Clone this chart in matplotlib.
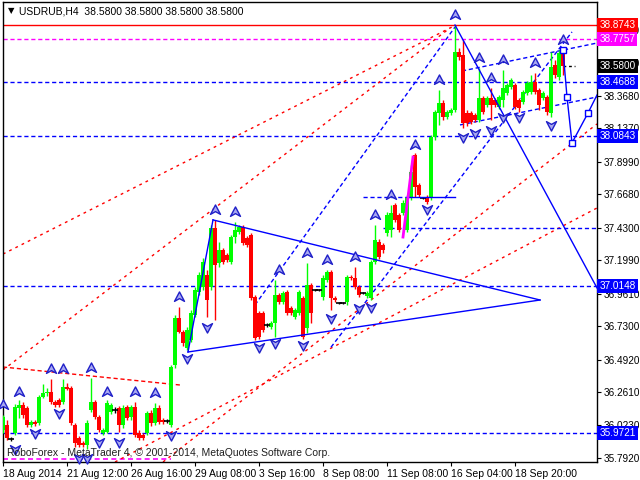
import numpy as np
import matplotlib
matplotlib.use("Agg")
import matplotlib.pyplot as plt
from matplotlib.path import Path
from matplotlib.transforms import blended_transform_factory

# ---------------------------------------------------------------------------
# USDRUB H4 bars (bar index = position on the chart)
opens = [
  35.991, 36.026, 35.927, 35.970, 36.147, 36.169, 36.147, 36.026, 36.048, 36.041,
  36.226, 36.254, 36.261, 36.190, 36.204, 36.190, 36.297, 36.290, 36.026, 35.934,
  35.898, 35.884, 36.133, 36.190, 36.083, 35.970, 35.977, 36.119, 36.133, 36.147,
  36.026, 36.155, 36.083, 36.155, 35.970, 35.955, 35.970, 36.112, 36.041, 36.147,
  36.062, 36.055, 36.026, 36.453, 36.788, 36.688, 36.574, 36.631, 36.809, 36.973,
  37.009, 37.094, 37.009, 37.429, 37.179, 37.272, 37.236, 37.187, 37.364, 37.400,
  37.436, 37.357, 37.379, 36.937, 36.824, 36.824, 36.738, 36.724, 36.752, 36.952,
  36.902, 36.973, 36.859, 36.795, 36.824, 36.930, 36.717, 37.023, 36.987, 36.987,
  36.937, 37.058, 37.115, 36.930, 36.895, 36.895, 36.902, 37.080, 37.073, 37.009,
  36.966, 36.945, 36.930, 37.187, 37.329, 37.308, 37.393, 37.414, 37.592, 37.521,
  37.535, 37.414, 37.642, 37.948, 37.735, 37.642, 37.649, 37.649, 38.076, 38.247,
  38.318, 38.219, 38.247, 38.268, 38.681, 38.660, 38.247, 38.247, 38.233, 38.197,
  38.354, 38.304, 38.354, 38.340, 38.290, 38.340, 38.389, 38.432, 38.446, 38.340,
  38.325, 38.389, 38.397, 38.468, 38.411, 38.354, 38.361, 38.247, 38.589, 38.503,
  38.674]
highs = [
  36.098, 36.062, 35.941, 36.176, 36.204, 36.190, 36.162, 36.062, 36.062, 36.240,
  36.318, 36.290, 36.354, 36.204, 36.219, 36.354, 36.325, 36.304, 36.041, 35.948,
  35.913, 36.062, 36.361, 36.204, 36.098, 36.005, 36.204, 36.183, 36.155, 36.162,
  36.169, 36.169, 36.169, 36.190, 35.991, 35.970, 36.126, 36.133, 36.183, 36.169,
  36.076, 36.069, 36.453, 36.809, 36.866, 36.703, 36.724, 36.845, 37.009, 37.115,
  37.215, 37.130, 37.450, 37.486, 37.329, 37.286, 37.251, 37.379, 37.471, 37.450,
  37.450, 37.372, 37.393, 36.952, 36.838, 36.838, 36.752, 36.767, 37.058, 36.966,
  36.980, 36.987, 36.873, 36.859, 36.987, 36.945, 37.179, 37.037, 36.994, 36.994,
  37.094, 37.130, 37.130, 36.945, 36.902, 36.902, 37.094, 37.094, 37.151, 37.023,
  36.973, 36.980, 37.201, 37.450, 37.350, 37.322, 37.542, 37.592, 37.607, 37.535,
  37.628, 37.663, 37.877, 37.962, 37.749, 37.649, 37.663, 38.091, 38.268, 38.411,
  38.340, 38.268, 38.283, 38.874, 38.710, 38.767, 38.268, 38.261, 38.247, 38.567,
  38.368, 38.368, 38.425, 38.354, 38.375, 38.553, 38.461, 38.496, 38.461, 38.354,
  38.411, 38.475, 38.518, 38.532, 38.425, 38.404, 38.375, 38.681, 38.624, 38.695,
  38.695]
lows = [
  35.970, 35.920, 35.913, 35.955, 36.076, 36.076, 36.012, 36.012, 36.019, 36.026,
  36.219, 36.233, 36.176, 36.155, 36.155, 36.176, 36.276, 36.026, 35.870, 35.870,
  35.870, 35.856, 36.119, 36.069, 35.977, 35.955, 35.970, 36.105, 36.112, 35.977,
  36.005, 36.062, 36.062, 35.941, 35.920, 35.920, 35.955, 36.019, 36.026, 36.034,
  36.034, 36.041, 36.012, 36.432, 36.681, 36.589, 36.560, 36.617, 36.795, 36.952,
  36.987, 36.795, 36.987, 36.774, 37.151, 37.172, 37.187, 37.172, 37.322, 37.386,
  37.308, 37.293, 36.916, 36.631, 36.639, 36.688, 36.724, 36.710, 36.653, 36.888,
  36.888, 36.809, 36.809, 36.781, 36.809, 36.639, 36.681, 36.752, 36.980, 36.980,
  36.916, 37.044, 36.845, 36.902, 36.888, 36.888, 36.881, 37.058, 36.994, 36.937,
  36.959, 36.930, 36.916, 37.172, 37.208, 37.251, 37.372, 37.364, 37.471, 37.400,
  37.521, 37.400, 37.628, 37.649, 37.649, 37.635, 37.599, 37.628, 38.055, 38.162,
  38.197, 38.204, 38.233, 38.254, 38.624, 38.140, 38.155, 38.169, 38.183, 38.183,
  38.240, 38.290, 38.197, 38.290, 38.276, 38.290, 38.375, 38.418, 38.276, 38.254,
  38.311, 38.375, 38.382, 38.382, 38.268, 38.340, 38.233, 38.219, 38.496, 38.482,
  38.518]
closes = [
  36.083, 35.934, 35.927, 36.155, 36.169, 36.098, 36.026, 36.048, 36.034, 36.226,
  36.254, 36.261, 36.190, 36.169, 36.169, 36.297, 36.283, 36.041, 35.898, 35.884,
  35.884, 36.041, 36.190, 36.083, 35.991, 35.991, 36.183, 36.169, 36.133, 36.026,
  36.147, 36.076, 36.155, 35.955, 35.934, 35.934, 36.112, 36.041, 36.147, 36.048,
  36.048, 36.055, 36.439, 36.788, 36.688, 36.610, 36.703, 36.824, 36.987, 37.094,
  37.187, 36.916, 37.429, 37.165, 37.272, 37.187, 37.201, 37.364, 37.414, 37.436,
  37.322, 37.308, 36.930, 36.646, 36.653, 36.703, 36.738, 36.752, 36.952, 36.902,
  36.966, 36.824, 36.824, 36.845, 36.973, 36.653, 37.023, 36.824, 36.987, 36.987,
  37.073, 37.115, 36.930, 36.916, 36.895, 36.895, 37.080, 37.073, 37.009, 36.952,
  36.966, 36.966, 37.187, 37.343, 37.222, 37.272, 37.521, 37.535, 37.486, 37.414,
  37.607, 37.642, 37.827, 37.720, 37.663, 37.642, 37.614, 38.076, 38.254, 38.318,
  38.219, 38.254, 38.268, 38.681, 38.646, 38.176, 38.176, 38.183, 38.197, 38.354,
  38.254, 38.354, 38.304, 38.304, 38.361, 38.425, 38.446, 38.482, 38.290, 38.283,
  38.397, 38.461, 38.468, 38.397, 38.304, 38.389, 38.254, 38.574, 38.518, 38.674,
  38.580]

# Time axis labels (one every 16 bars)
time_label_bars = [0, 16, 32, 48, 64, 80, 96, 112, 128]
time_labels = ["18 Aug 2014", "21 Aug 12:00", "26 Aug 16:00", "29 Aug 08:00",
               "3 Sep 16:00", "8 Sep 08:00", "11 Sep 08:00", "16 Sep 04:00",
               "18 Sep 20:00"]
price_ticks = [35.792, 36.023, 36.261, 36.492, 36.730, 36.961, 37.199, 37.430,
               37.668, 37.899, 38.137, 38.368, 38.606, 38.837]

# Fractals: bar index and level of the arrow
frac_up_bars = [0, 4, 12, 15, 22, 26, 33, 38, 44, 53, 58, 69, 76, 81, 88, 93,
                97, 103, 109, 113, 119, 122, 125, 133, 140]
frac_up_prices = [36.169, 36.261, 36.425, 36.425, 36.432, 36.261, 36.261, 36.254,
                  36.937, 37.557, 37.542, 37.130, 37.251, 37.201, 37.222, 37.521,
                  37.663, 38.019, 38.482, 38.945, 38.638, 38.496, 38.624, 38.603,
                  38.767]
frac_dn_bars = [3, 8, 14, 19, 21, 24, 29, 42, 46, 51, 64, 68, 75, 82, 89, 92,
                106, 115, 118, 122, 125, 129, 137]
frac_dn_prices = [35.856, 35.970, 36.112, 35.792, 35.792, 35.905, 35.905, 35.955,
                  36.503, 36.724, 36.582, 36.610, 36.596, 36.788, 36.859, 36.866,
                  37.564, 38.076, 38.105, 38.126, 38.219, 38.219, 38.162]

# Horizontal levels: price, colour, style
levels = [
  (38.8743, "#ff0000", "solid"),
  (38.7757, "#ff00ff", "dashed"),
  (38.4688, "#0000ff", "dashed"),
  (38.0843, "#0000ff", "dashed"),
  (37.0148, "#0000ff", "dashed"),
  (35.9721, "#0000ff", "dashed"),
]
last_price = 38.5800

# Trend lines: ((bar, price), (bar, price))
red_dotted = [
  ((0, 37.243), (112.25, 38.859)),
  ((0, 36.418), (111.75, 38.852)),
  ((40, 35.763), (148.5, 38.169)),
  ((28, 35.763), (148.5, 37.571)),
]
red_dashed = [((0, 36.439), (44.25, 36.311))]
blue_solid = [
  ((52.5, 37.486), (134.25, 36.916)),
  ((46.25, 36.546), (134.25, 36.916)),
  ((46.25, 36.546), (52.5, 37.486)),
  ((113, 38.873), (148.5, 37.002)),
  ((101, 37.649), (113, 37.649)),
]
blue_dashed = [
  ((63, 36.881), (113, 38.859)),
  ((82, 36.580), (142.25, 38.824)),
  ((114.75, 38.546), (148.5, 38.745)),
  ((114.25, 38.162), (148.5, 38.361)),
  ((90, 37.649), (101, 37.649)),
  ((95, 37.430), (148.5, 37.430)),
]
forecast_bars = [140, 141, 142.25, 146.25, 148.5]
forecast_prices = [38.695, 38.361, 38.034, 38.247, 38.375]

# ---------------------------------------------------------------------------
plt.rcParams["font.family"] = ["Liberation Sans", "DejaVu Sans"]

W, H = 640, 480
fig = plt.figure(figsize=(6.4, 4.8), dpi=100)
ax = fig.add_axes([3 / W, 18 / H, 594 / W, 460 / H])
ax.set_xlim(0, 148.5)
ax.set_ylim(35.763, 39.037)

o = np.array(opens)
hi = np.array(highs)
lo = np.array(lows)
c = np.array(closes)
idx = np.arange(len(o))

# candles
up = c > o + 0.004
dn = c < o - 0.004
dj = ~(up | dn)
for mask, col in ((up, "#00ff00"), (dn, "#ff0000")):
  ax.vlines(idx[mask], lo[mask], hi[mask], colors=col, lw=1, zorder=3)
  bottom = np.minimum(o[mask], c[mask])
  height = np.maximum(np.abs(c[mask] - o[mask]), 0.007)
  ax.bar(idx[mask], height, bottom=bottom, width=0.78, color=col,
         linewidth=0, zorder=3)
ax.vlines(idx[dj], lo[dj], hi[dj], colors="black", lw=1, zorder=3)
ax.plot(idx[dj], c[dj], ls="none", marker="_", ms=4, mew=1.2, color="black",
        zorder=3)

# levels
for price, col, style in levels:
  if style == "solid":
    ax.axhline(price, color=col, lw=1, zorder=2)
  else:
    ax.axhline(price, color=col, lw=1, ls=(0, (3, 2)), zorder=2)
ax.plot([0, 42], [35.784, 35.784], color="#ff00ff", lw=1.2, ls=(0, (3, 2)))
ax.plot([140, 143], [last_price, last_price], color="black", lw=1,
        ls=(0, (2, 2)), zorder=2)

for (x0, y0), (x1, y1) in red_dotted:
  ax.plot([x0, x1], [y0, y1], color="#ff0000", lw=1, ls=(0, (2, 3)), zorder=2)
for (x0, y0), (x1, y1) in red_dashed:
  ax.plot([x0, x1], [y0, y1], color="#ff0000", lw=1, ls=(0, (3, 2)), zorder=2)
for (x0, y0), (x1, y1) in blue_solid:
  ax.plot([x0, x1], [y0, y1], color="#0000ff", lw=1, zorder=4)
for (x0, y0), (x1, y1) in blue_dashed:
  ax.plot([x0, x1], [y0, y1], color="#0000ff", lw=1, ls=(0, (3, 2)), zorder=2)
ax.plot([100, 102.5], [37.364, 37.934], color="#ff00ff", lw=2, zorder=4)

ax.plot(forecast_bars, forecast_prices, color="#0000ff", lw=1, zorder=4)
ax.plot(forecast_bars[:4], forecast_prices[:4], ls="none", marker="s", ms=5,
        mfc="white", mec="#0000ff", mew=1, zorder=5)

# fractal arrows
up_arrow = Path([(0, 1), (0.9, -0.7), (0, -0.2), (-0.9, -0.7), (0, 1)],
                [Path.MOVETO, Path.LINETO, Path.LINETO, Path.LINETO, Path.CLOSEPOLY])
dn_arrow = Path([(0, -1), (0.9, 0.7), (0, 0.2), (-0.9, 0.7), (0, -1)],
                [Path.MOVETO, Path.LINETO, Path.LINETO, Path.LINETO, Path.CLOSEPOLY])
ax.plot(frac_up_bars, frac_up_prices, ls="none", marker=up_arrow, ms=8,
        mfc="#a8a8f0", mec="#2020c8", mew=1, zorder=5, clip_on=False)
ax.plot(frac_dn_bars, frac_dn_prices, ls="none", marker=dn_arrow, ms=8,
        mfc="#a8a8f0", mec="#2020c8", mew=1, zorder=5, clip_on=False)

# axes
for s in ax.spines.values():
  s.set_color("black")
  s.set_linewidth(1)
ax.yaxis.tick_right()
ax.set_yticks(price_ticks)
ax.set_yticklabels(["%.4f" % p for p in price_ticks])
ax.set_xticks(time_label_bars)
ax.set_xticklabels(time_labels)
for lab in ax.get_xticklabels():
  lab.set_ha("left")
ax.tick_params(axis="y", direction="out", length=3, pad=1.5, labelsize=7.2,
               colors="black")
ax.tick_params(axis="x", direction="out", length=3, pad=2, labelsize=7.5,
               colors="black")

# price labels at right
tr = blended_transform_factory(ax.transAxes, ax.transData)
for price, col, style in levels:
  ax.text(1.004, price, "%.4f" % price, transform=tr, ha="left", va="center",
          fontsize=7.2, color="white", clip_on=False, zorder=10,
          bbox=dict(boxstyle="square,pad=0.2", fc=col, ec="none"))
ax.text(1.004, last_price, "%.4f" % last_price, transform=tr, ha="left",
        va="center", fontsize=7.2, color="white", clip_on=False, zorder=10,
        bbox=dict(boxstyle="square,pad=0.2", fc="black", ec="none"))

# header / footer texts
ax.text(5 / 594, 1 - 9 / 460, "\u25bc", transform=ax.transAxes, fontsize=6,
        va="center", ha="left", color="black", family="DejaVu Sans")
ax.text(16 / 594, 1 - 9 / 460, "USDRUB,H4  38.5800 38.5800 38.5800 38.5800",
        transform=ax.transAxes, fontsize=7.5, va="center", ha="left",
        color="black")
ax.text(4 / 594, 9 / 460,
        "RoboForex - MetaTrader 4, \u00a9 2001-2014, MetaQuotes Software Corp.",
        transform=ax.transAxes, fontsize=7.5, va="center", ha="left",
        color="#202020", zorder=6)

fig.savefig("out.png", dpi=100)
